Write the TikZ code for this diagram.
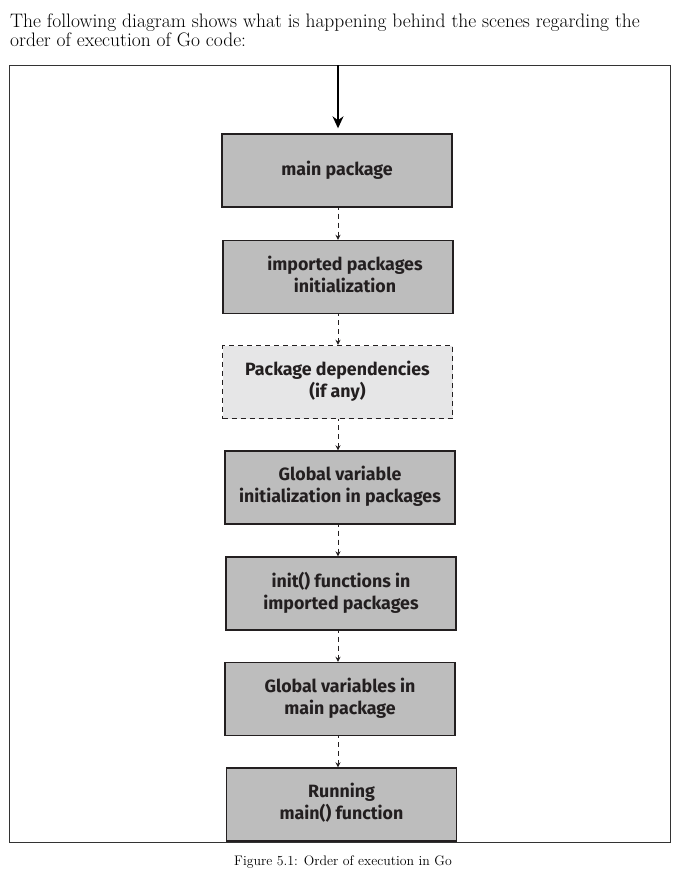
\documentclass[tikz,border=0pt]{standalone}
\usepackage{fontspec}
\newfontfamily\boxfont{Fira Sans}
\usetikzlibrary{arrows.meta}
\definecolor{boxgray}{HTML}{BDBDBD}
\definecolor{lightgray}{HTML}{E6E6E7}
\definecolor{edge}{HTML}{231F20}
\tikzset{
  stepbox/.style={draw=edge, line width=1.4pt, fill=boxgray, minimum width=230pt, minimum height=73pt, inner sep=0pt, align=center, font=\boxfont\bfseries\fontsize{17.8}{22}\selectfont, text=edge},
  optbox/.style={stepbox, fill=lightgray, dashed, dash pattern=on 5pt off 4pt},
  flow/.style={draw=edge, line width=0.8pt, dash pattern=on 5pt off 4pt, dash phase=3pt, -{Stealth[length=5pt,width=5pt]}},
  entry/.style={draw=black, line width=1.4pt, shorten >=5pt, -{Stealth[length=12pt,width=11pt]}},
  frame/.style={draw=black!80, line width=1pt}
}
\begin{document}
\begin{tikzpicture}[x=1pt,y=-1pt]
\useasboundingbox[fill=white] (0,0) rectangle (684,889);
% intro text
\node[anchor=base west, inner sep=0pt, font=\fontsize{19.5}{18}\selectfont] (intro1) at (10,27) {The following diagram shows what is happening behind the scenes regarding the};
\node[anchor=base west, inner sep=0pt, font=\fontsize{19.5}{18}\selectfont] (intro2) at (10,46) {order of execution of Go code:};
% frame
\draw[frame] (9,65) rectangle (670,842);
\coordinate (top) at (338,65);
% boxes
\node[stepbox] (b1) at (337,170.5) {\raisebox{2pt}{main package}};
\node[stepbox] (b2) at (338,277) {\hspace*{14pt}imported packages\\\hspace*{14pt}initialization\rule[-6pt]{0pt}{0pt}};
\node[optbox] (b3) at (337.5,382) {Package dependencies\\(if any)\rule[-6pt]{0pt}{0pt}};
\node[stepbox] (b4) at (340,487.5) {Global variable\\initialization in packages\rule[-6pt]{0pt}{0pt}};
\node[stepbox] (b5) at (341,593.5) {init() functions in\\imported packages\rule[-6pt]{0pt}{0pt}};
\node[stepbox] (b6) at (340,699) {Global variables in\\main package\rule[-6pt]{0pt}{0pt}};
\node[stepbox] (b7) at (341.5,804.5) {Running\\main() function\rule[-6pt]{0pt}{0pt}};
% caption
\node[inner sep=0pt, font=\fontsize{13.8}{15}\selectfont] (cap) at (343,862) {Figure 5.1: Order of execution in Go};
% connectors
\draw[entry] (top) -- (b1.north -| top);
\draw[flow] (b1.south -| 338,0) -- (b2.north -| 338,0);
\draw[flow] (b2.south -| 338,0) -- (b3.north -| 338,0);
\draw[flow] (b3.south -| 338,0) -- (b4.north -| 338,0);
\draw[flow] (b4.south -| 338,0) -- (b5.north -| 338,0);
\draw[flow] (b5.south -| 338,0) -- (b6.north -| 338,0);
\draw[flow] (b6.south -| 338,0) -- (b7.north -| 338,0);
\end{tikzpicture}
\end{document}
